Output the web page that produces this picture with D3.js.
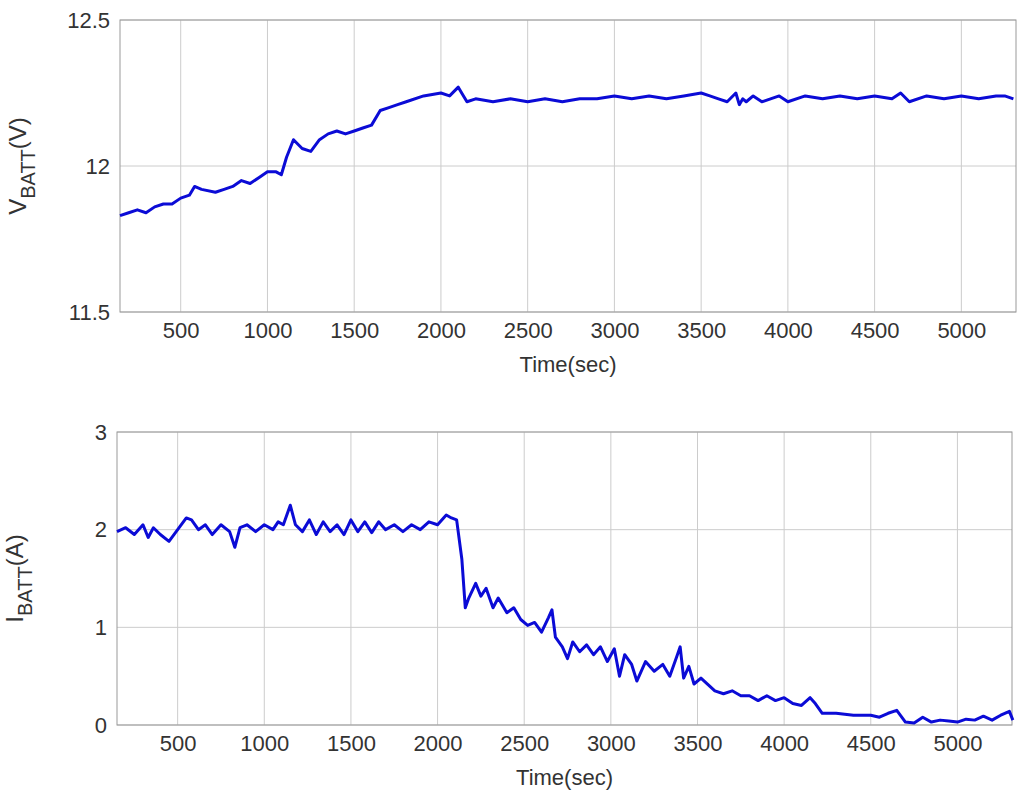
<!DOCTYPE html>
<html><head><meta charset="utf-8">
<script src="https://cdn.jsdelivr.net/npm/d3@7"></script>
<style>body{margin:0;background:#fff}text{font-family:"Liberation Sans",Arial,sans-serif;fill:#333}</style>
</head><body><div id="chart"></div>
<script>
const timeV = [150,200,250,300,350,400,450,500,550,580,620,700,750,800,850,900,950,1000,1050,1080,1110,1150,1200,1250,1300,1350,1400,1450,1500,1550,1600,1650,1700,1750,1800,1900,2000,2050,2100,2130,2150,2200,2300,2400,2500,2600,2700,2800,2900,3000,3100,3200,3300,3400,3500,3550,3600,3650,3700,3720,3740,3760,3800,3850,3900,3950,4000,4100,4200,4300,4400,4500,4600,4650,4700,4800,4900,5000,5100,5200,5250,5300];
const vBatt = [11.83,11.84,11.85,11.84,11.86,11.87,11.87,11.89,11.9,11.93,11.92,11.91,11.92,11.93,11.95,11.94,11.96,11.98,11.98,11.97,12.03,12.09,12.06,12.05,12.09,12.11,12.12,12.11,12.12,12.13,12.14,12.19,12.2,12.21,12.22,12.24,12.25,12.24,12.27,12.24,12.22,12.23,12.22,12.23,12.22,12.23,12.22,12.23,12.23,12.24,12.23,12.24,12.23,12.24,12.25,12.24,12.23,12.22,12.25,12.21,12.23,12.22,12.24,12.22,12.23,12.24,12.22,12.24,12.23,12.24,12.23,12.24,12.23,12.25,12.22,12.24,12.23,12.24,12.23,12.24,12.24,12.23];
const timeI = [150,200,250,300,330,360,400,450,500,550,580,620,660,700,750,800,830,860,900,950,1000,1050,1080,1110,1150,1180,1220,1260,1300,1340,1380,1420,1460,1500,1540,1580,1620,1660,1700,1750,1800,1850,1900,1950,2000,2050,2080,2110,2140,2160,2180,2220,2250,2280,2320,2350,2400,2440,2480,2520,2560,2600,2640,2660,2680,2720,2750,2780,2820,2860,2900,2940,2980,3020,3050,3080,3120,3150,3200,3250,3300,3340,3380,3400,3420,3450,3480,3520,3600,3650,3700,3750,3800,3850,3900,3950,4000,4050,4100,4150,4180,4220,4300,4400,4500,4550,4600,4650,4700,4750,4800,4850,4900,4950,5000,5050,5100,5150,5200,5250,5300,5320];
const iBatt = [1.98,2.02,1.95,2.05,1.92,2.02,1.95,1.88,2.0,2.12,2.1,2.0,2.05,1.95,2.05,1.98,1.82,2.02,2.05,1.98,2.05,2.0,2.08,2.05,2.25,2.05,1.98,2.1,1.95,2.08,1.98,2.05,1.95,2.1,1.98,2.08,1.97,2.08,2.0,2.05,1.98,2.05,2.0,2.08,2.05,2.15,2.12,2.1,1.7,1.2,1.3,1.45,1.32,1.4,1.2,1.3,1.15,1.2,1.08,1.02,1.05,0.95,1.1,1.18,0.9,0.8,0.68,0.85,0.75,0.82,0.72,0.8,0.65,0.78,0.5,0.72,0.62,0.45,0.65,0.55,0.62,0.5,0.7,0.8,0.48,0.6,0.42,0.48,0.35,0.32,0.35,0.3,0.3,0.25,0.3,0.25,0.28,0.22,0.2,0.28,0.22,0.12,0.12,0.1,0.1,0.08,0.12,0.15,0.03,0.02,0.08,0.03,0.05,0.04,0.03,0.06,0.05,0.09,0.05,0.1,0.14,0.05,0.1];
const xTicks = [500,1000,1500,2000,2500,3000,3500,4000,4500,5000];
const vTicks = [11.5,12,12.5];
const iTicks = [0,1,2,3];

const svg = d3.select("#chart").append("svg").attr("width",1024).attr("height",801);

function panel(top, bottom, left, right, yDomain, yTicks, tx, ty, labelSub, unit) {
  const x = d3.scaleLinear().domain([150,5315]).range([left,right]);
  const y = d3.scaleLinear().domain(yDomain).range([bottom,top]);
  const g = svg.append("g");
  g.append("g").selectAll("line").data(xTicks).join("line")
    .attr("x1",d=>x(d)).attr("x2",d=>x(d)).attr("y1",top).attr("y2",bottom)
    .attr("stroke","#ccc").attr("stroke-width",1);
  g.append("g").selectAll("line").data(yTicks).join("line")
    .attr("x1",left).attr("x2",right).attr("y1",d=>y(d)).attr("y2",d=>y(d))
    .attr("stroke","#ccc").attr("stroke-width",1);
  g.append("rect").attr("x",left).attr("y",top).attr("width",right-left).attr("height",bottom-top)
    .attr("fill","none").attr("stroke","#999");
  const xa = g.append("g").attr("transform",`translate(0,${bottom})`)
    .call(d3.axisBottom(x).tickValues(xTicks).tickSize(0).tickPadding(10).tickFormat(d3.format("d")));
  const ya = g.append("g").attr("transform",`translate(${left},0)`)
    .call(d3.axisLeft(y).tickValues(yTicks).tickSize(0).tickPadding(10).tickFormat(d3.format("")));
  [xa,ya].forEach(a=>{a.select(".domain").remove();a.selectAll("text").attr("font-size",22).attr("fill","#333")});
  g.append("text").attr("x",(left+right)/2).attr("y",bottom+60).attr("text-anchor","middle")
    .attr("font-size",22).text("Time(sec)");
  const lab = g.append("text").attr("transform",`translate(${left-94},${(top+bottom)/2}) rotate(-90)`)
    .attr("text-anchor","middle").attr("font-size",24);
  lab.append("tspan").text(labelSub[0]);
  lab.append("tspan").attr("font-size",20).attr("dy",9).text(labelSub[1]);
  lab.append("tspan").attr("dy",-9).text(unit);
  g.append("path").datum(d3.zip(tx,ty)).attr("fill","none").attr("stroke","#0b0bd6")
    .attr("stroke-width",3).attr("stroke-linejoin","round")
    .attr("d",d3.line().x(d=>x(d[0])).y(d=>y(d[1])));
}
panel(20,312,120,1016,[11.5,12.5],vTicks,timeV,vBatt,["V","BATT"],"(V)");
panel(432,725,117,1012,[0,3],iTicks,timeI,iBatt,["I","BATT"],"(A)");
</script></body></html>
